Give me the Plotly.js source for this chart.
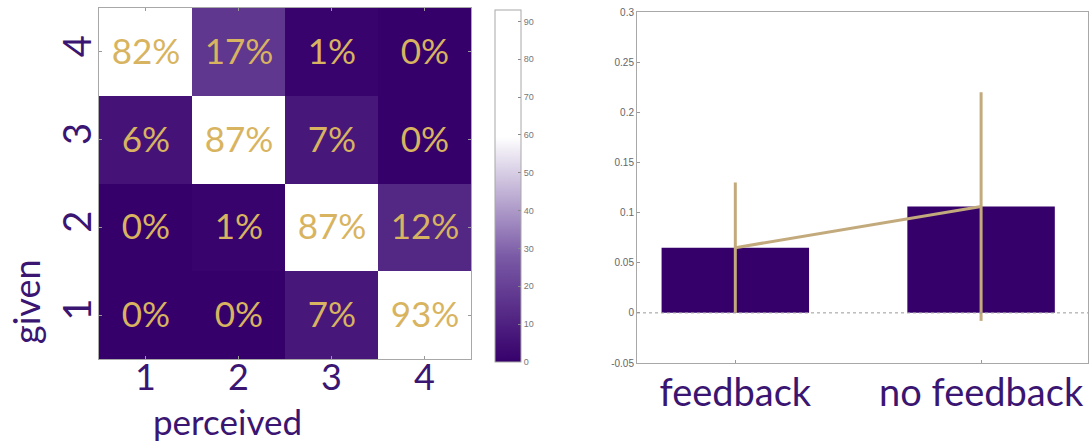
<!DOCTYPE html>
<html>
<head>
<meta charset="utf-8">
<script src="https://cdn.plot.ly/plotly-3.0.1.min.js"></script>
<style>
  html, body { margin: 0; padding: 0; background: #ffffff; }
  #chart { width: 1090px; height: 444px; }
</style>
</head>
<body>
<div id="chart"></div>
<script>
// Confusion matrix: rows = given level, columns = perceived level (percent)
const perceivedLevels = [1, 2, 3, 4];
const givenLevels = [1, 2, 3, 4];
const given1 = [0, 0, 7, 93];
const given2 = [0, 1, 87, 12];
const given3 = [6, 87, 7, 0];
const given4 = [82, 17, 1, 0];
const colorbarTicks = [0, 10, 20, 30, 40, 50, 60, 70, 80, 90];

// Mean error per condition with its spread
const conditions = ['feedback', 'no feedback'];
const conditionMeans = [0.065, 0.106];
const conditionSpread = [0.065, 0.114];
const barTicks = [-0.05, 0, 0.05, 0.1, 0.15, 0.2, 0.25, 0.3];

const purple = '#36006b';
const ink = '#3b1572';
const gold = '#d8b460';
const tan = '#c3aa7c';
const frame = '#a8a8a8';
const labelFont = 'Lato, "Open Sans", sans-serif';
const W = 1090, H = 444;

const conditionPos = conditions.map((_, i) => i + 1);

const heat = {
  type: 'heatmap',
  x: perceivedLevels,
  y: givenLevels,
  z: [given1, given2, given3, given4],
  zmin: 0,
  zmax: 93,
  colorscale: [[0, purple], [0.3, '#7a5aa6'], [0.64, '#ffffff'], [1, '#ffffff']],
  texttemplate: '%{z}%',
  textfont: { family: labelFont, size: 35, color: gold },
  xaxis: 'x',
  yaxis: 'y',
  hoverinfo: 'skip',
  colorbar: {
    x: 495 / W, xanchor: 'left',
    y: 1 - 10 / H, yanchor: 'top',
    len: 352 / H, lenmode: 'fraction',
    thickness: 26, thicknessmode: 'pixels',
    outlinewidth: 1, outlinecolor: frame,
    tickvals: colorbarTicks,
    ticks: 'inside', ticklen: 3, tickcolor: '#888',
    tickfont: { family: 'Liberation Sans, Arial, sans-serif', size: 9, color: '#777' },
    xpad: 0, ypad: 0
  }
};

const bars = {
  type: 'bar',
  x: conditionPos,
  y: conditionMeans,
  width: 0.6,
  marker: { color: purple, line: { width: 0 } },
  xaxis: 'x2',
  yaxis: 'y2',
  hoverinfo: 'skip'
};

const means = {
  type: 'scatter',
  mode: 'lines',
  x: conditionPos,
  y: conditionMeans,
  line: { color: tan, width: 3 },
  error_y: { type: 'data', array: conditionSpread, visible: true, color: tan, thickness: 3, width: 0 },
  xaxis: 'x2',
  yaxis: 'y2',
  hoverinfo: 'skip'
};

const layout = {
  width: W,
  height: H,
  margin: { l: 0, r: 0, t: 0, b: 0 },
  paper_bgcolor: '#ffffff',
  plot_bgcolor: '#ffffff',
  showlegend: false,
  xaxis: {
    domain: [99 / W, 471 / W],
    anchor: 'y',
    range: [0.5, 4.5],
    tickvals: perceivedLevels,
    tickfont: { family: labelFont, size: 36, color: ink },
    ticklabelstandoff: -13,
    ticks: 'inside', ticklen: 3, tickcolor: '#999',
    showline: true, linecolor: frame, linewidth: 1, mirror: 'ticks',
    showgrid: false, zeroline: false, fixedrange: true
  },
  yaxis: {
    domain: [1 - 359 / H, 1 - 8 / H],
    anchor: 'x',
    range: [0.5, 4.5],
    tickvals: givenLevels,
    tickangle: -90,
    tickfont: { family: labelFont, size: 38, color: ink },
    ticklabelstandoff: -8,
    ticks: 'inside', ticklen: 3, tickcolor: '#999',
    showline: true, linecolor: frame, linewidth: 1, mirror: 'ticks',
    showgrid: false, zeroline: false, fixedrange: true
  },
  xaxis2: {
    domain: [637 / W, 1088 / W],
    anchor: 'y2',
    range: [0.6, 2.435],
    tickvals: conditionPos,
    ticktext: conditions,
    tickfont: { family: labelFont, size: 38, color: ink },
    ticklabelstandoff: -4,
    ticks: 'inside', ticklen: 3, tickcolor: '#999',
    showline: true, linecolor: frame, linewidth: 1, mirror: true,
    showgrid: false, zeroline: false, fixedrange: true
  },
  yaxis2: {
    domain: [1 - 363 / H, 1 - 12 / H],
    anchor: 'x2',
    range: [-0.05, 0.3],
    tickvals: barTicks,
    ticktext: barTicks.map(v => String(v)),
    tickfont: { family: 'Liberation Sans, Arial, sans-serif', size: 10, color: '#666' },
    ticks: 'inside', ticklen: 3, tickcolor: '#999',
    showline: true, linecolor: frame, linewidth: 1, mirror: true,
    showgrid: false, zeroline: false, fixedrange: true
  },
  shapes: [{
    type: 'line', xref: 'x2 domain', yref: 'y2',
    x0: 0, x1: 1, y0: 0, y1: 0,
    line: { color: '#999', width: 1, dash: 'dot' },
    layer: 'above'
  }],
  annotations: [
    {
      text: 'given', xref: 'paper', yref: 'paper',
      x: 26 / W, y: 1 - 302 / H, xanchor: 'center', yanchor: 'middle',
      showarrow: false, textangle: -90,
      font: { family: labelFont, size: 36, color: ink }
    },
    {
      text: 'perceived', xref: 'paper', yref: 'paper',
      x: 227 / W, y: 1 - 421 / H, xanchor: 'center', yanchor: 'middle',
      showarrow: false,
      font: { family: labelFont, size: 35, color: ink }
    }
  ]
};

Plotly.newPlot('chart', [heat, bars, means], layout, { staticPlot: true, displayModeBar: false });
</script>
</body>
</html>
